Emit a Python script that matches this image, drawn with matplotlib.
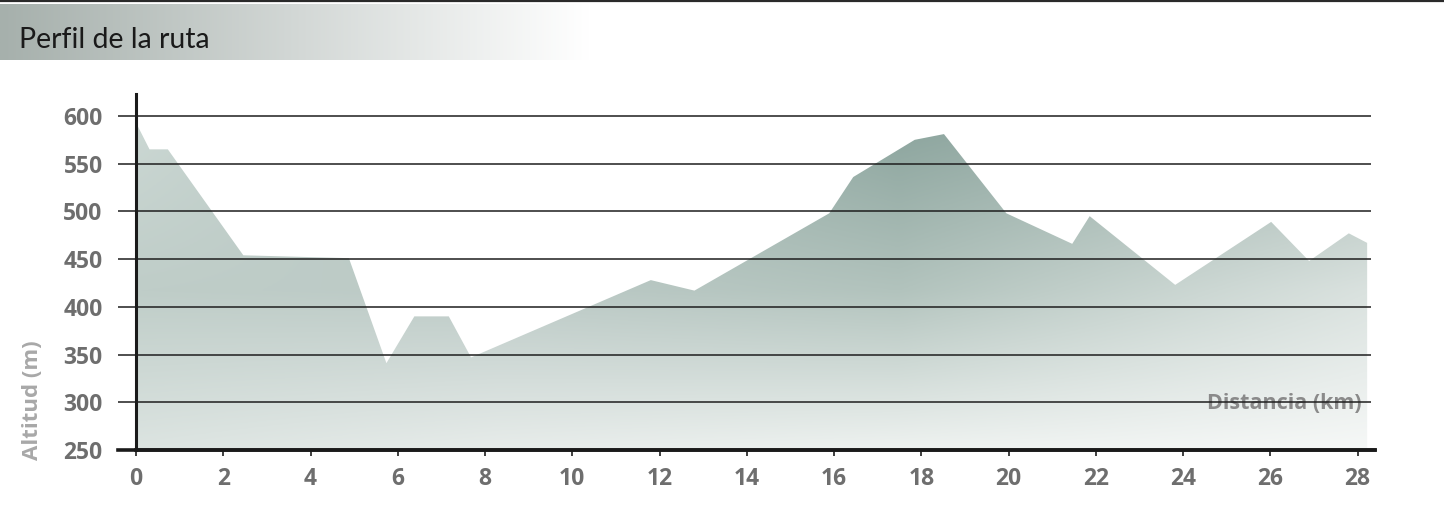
import numpy as np
import matplotlib.pyplot as plt
from matplotlib.colors import to_rgb
from matplotlib.lines import Line2D

# perfil: distancia (km) / altitud (m)
km = [0, 0.31, 0.73, 2.46, 4.88, 5.74, 6.38, 7.17, 7.68, 11.8, 12.8, 15.89,
      16.44, 17.85, 18.52, 19.95, 21.46, 21.86, 23.82, 26.02, 26.89, 27.8, 28.22]
alt = [593, 565, 565, 454, 451, 341, 390, 390, 347, 428, 417, 498,
       536, 575, 581, 498, 466, 495, 423, 489, 448, 477, 467]

y_ticks = [250, 300, 350, 400, 450, 500, 550, 600]
x_ticks = list(range(0, 29, 2))

XMAX, YMIN, YMAX = 28.4, 250, 623

plt.rcParams['font.family'] = ['Open Sans', 'DejaVu Sans']

fig = plt.figure(figsize=(14.44, 5.13), dpi=100)

# linea superior y cabecera con degradado
fig.add_artist(Line2D([0, 1], [1 - 1 / 513, 1 - 1 / 513], color='#2a2a2a', lw=1.6))
hax = fig.add_axes([0, 1 - 60 / 513, 590 / 1444, 56 / 513])
hgrad = np.linspace(0, 1, 256)
c0, c1 = np.array(to_rgb('#a6b0ac')), np.array(to_rgb('#ffffff'))
himg = c0[None, :] * (1 - hgrad[:, None]) + c1[None, :] * hgrad[:, None]
hax.imshow(himg[None, :, :], aspect='auto', extent=(0, 1, 0, 1))
hax.axis('off')
fig.text(19 / 1444, 1 - 48 / 513, 'Perfil de la ruta', fontsize=20.5,
         family=['Lato', 'DejaVu Sans'], color='#1a1a1a', va='baseline')

ax = fig.add_axes([136 / 1444, 1 - 450 / 513, (1375 - 136) / 1444, (450 - 94) / 513])
ax.set_xlim(0, XMAX)
ax.set_ylim(YMIN, YMAX)

# degradado del relleno (colores de muestra interpolados)
gx = [0, 8.3, 17.5, XMAX]
gy = [250, 417, 600]
gcols = [['#dce4e1', '#e7ecea', '#eef2f0', '#f6f8f7'],
         ['#bfcdc8', '#bccac6', '#b2c3bd', '#dae2df'],
         ['#ccd8d4', '#afc1bb', '#8aa39c', '#a9bab5']]
fx = np.linspace(0, XMAX, 300)
fy = np.linspace(YMIN, YMAX, 200)
rows = []
for r in gcols:
    rgb = np.array([to_rgb(c) for c in r])
    rows.append(np.stack([np.interp(fx, gx, rgb[:, k]) for k in range(3)], axis=-1))
rows = np.array(rows)
img = np.stack([np.stack([np.interp(fy, gy, rows[:, i, k]) for i in range(len(fx))], axis=-1)
                for k in range(3)], axis=-1)

poly = ax.fill(km + [km[-1], 0], alt + [YMIN, YMIN], facecolor='none', edgecolor='none')[0]
im = ax.imshow(img, origin='lower', aspect='auto', extent=(0, XMAX, YMIN, YMAX), zorder=1)
im.set_clip_path(poly)

ax.hlines(y_ticks[1:], 0, 28.3, color='#1e1e1e', lw=1.1, zorder=3)
ax.plot([-0.41, XMAX], [250, 250], color='#1a1a1a', lw=2.6, clip_on=False, zorder=4)

for s in ['top', 'right']:
    ax.spines[s].set_visible(False)
ax.spines['left'].set_linewidth(2.2)
ax.spines['left'].set_color('#1a1a1a')
ax.spines['bottom'].set_linewidth(2.6)
ax.spines['bottom'].set_color('#1a1a1a')

ax.set_yticks(y_ticks)
ax.set_xticks(x_ticks)
ax.tick_params(axis='y', length=13, width=1.1, color='#1e1e1e', pad=11,
               labelsize=16.5, labelcolor='#6e6e6e')
ax.tick_params(axis='x', length=4.5, width=1.2, color='#1e1e1e', pad=8,
               labelsize=16.5, labelcolor='#6e6e6e')
for lab in ax.get_xticklabels() + ax.get_yticklabels():
    lab.set_fontweight('bold')

ax.text(28.09, 298.5, 'Distancia (km)', ha='right', va='center', fontsize=15.5,
        fontweight='bold', color='#8a8a8a', zorder=2.5)
fig.text(32 / 1444, 1 - 400 / 513, 'Altitud (m)', rotation=90, ha='center', va='center',
         fontsize=16, fontweight='bold', color='#a8a8a8')

fig.savefig('out.png', dpi=100)
